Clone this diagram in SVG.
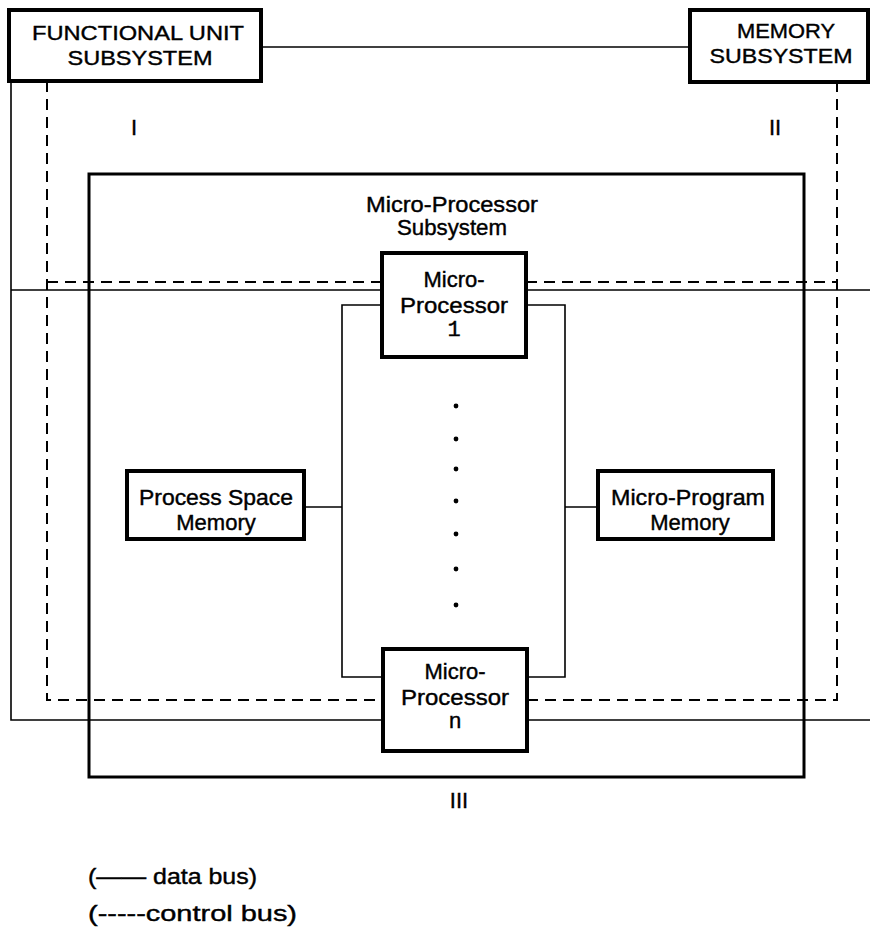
<svg xmlns="http://www.w3.org/2000/svg" width="870" height="940" viewBox="0 0 870 940">
<style>
.box{fill:#fff;stroke:#000;stroke-width:4}
.sub{fill:none;stroke:#000;stroke-width:3}
.data{fill:none;stroke:#000;stroke-width:1.6}
.ctrl{fill:none;stroke:#000;stroke-width:2;stroke-dasharray:11 7}
text{font-family:"Liberation Sans",Arial,sans-serif;fill:#000;stroke:#000;stroke-width:0.4;text-anchor:middle}
.big{font-size:21px}
.lbl{font-size:22px}
.start{text-anchor:start}
</style>
<rect width="870" height="940" fill="#fff"/>
<g id="mps-subsystem">
<rect class="sub" x="89" y="174" width="715" height="603"/>
<text class="lbl" x="452" y="212" textLength="172" lengthAdjust="spacingAndGlyphs">Micro-Processor</text>
<text class="lbl" x="452" y="235" textLength="110" lengthAdjust="spacingAndGlyphs">Subsystem</text>
</g>
<g id="connectors">
<path class="data" d="M261,47 H690"/>
<path class="data" d="M11,81 V720 H383"/>
<path class="data" d="M11,290 H382"/>
<path class="data" d="M526,290 H870"/>
<path class="data" d="M527,720 H870"/>
<path class="data" d="M382,305 H342 V677 H383"/>
<path class="data" d="M526,305 H565 V677 H527"/>
<path class="data" d="M304,507 H342"/>
<path class="data" d="M565,507 H598"/>
<path class="ctrl" d="M47,81 V700 H383"/>
<path class="ctrl" d="M527,700 H837 V82"/>
<path class="ctrl" d="M47,282 H382"/>
<path class="ctrl" d="M526,282 H837"/>
</g>
<g id="functional-unit">
<rect class="box" x="9" y="10" width="252" height="71"/>
<text class="big" x="138" y="40" textLength="212" lengthAdjust="spacingAndGlyphs">FUNCTIONAL UNIT</text>
<text class="big" x="140" y="65" textLength="145" lengthAdjust="spacingAndGlyphs">SUBSYSTEM</text>
</g>
<g id="memory">
<rect class="box" x="690" y="10" width="178" height="72"/>
<text class="big" x="786" y="38" textLength="98" lengthAdjust="spacingAndGlyphs">MEMORY</text>
<text class="big" x="781" y="63" textLength="143" lengthAdjust="spacingAndGlyphs">SUBSYSTEM</text>
</g>
<g id="mp1">
<rect class="box" x="382" y="253" width="144" height="104"/>
<text class="lbl" x="454" y="287">Micro-</text>
<text class="lbl" x="454" y="313" textLength="108" lengthAdjust="spacingAndGlyphs">Processor</text>
<text class="lbl" x="454" y="336" style="font-family:'Liberation Mono',monospace">1</text>
</g>
<g id="mpn">
<rect class="box" x="383" y="649" width="144" height="102"/>
<text class="lbl" x="455" y="679">Micro-</text>
<text class="lbl" x="455" y="705" textLength="108" lengthAdjust="spacingAndGlyphs">Processor</text>
<text class="lbl" x="455" y="728">n</text>
</g>
<g id="process-space-memory">
<rect class="box" x="127" y="471" width="177" height="68"/>
<text class="lbl" x="216" y="505" textLength="154" lengthAdjust="spacingAndGlyphs">Process Space</text>
<text class="lbl" x="216" y="530">Memory</text>
</g>
<g id="micro-program-memory">
<rect class="box" x="598" y="471" width="175" height="68"/>
<text class="lbl" x="688" y="505" textLength="154" lengthAdjust="spacingAndGlyphs">Micro-Program</text>
<text class="lbl" x="690" y="530">Memory</text>
</g>
<g id="dots" fill="#000">
<circle cx="456" cy="406" r="2.4"/>
<circle cx="456" cy="439" r="2.4"/>
<circle cx="456" cy="469" r="2.4"/>
<circle cx="456" cy="501" r="2.4"/>
<circle cx="456" cy="534" r="2.4"/>
<circle cx="456" cy="569" r="2.4"/>
<circle cx="456" cy="605" r="2.4"/>
</g>
<g id="labels">
<text class="lbl" x="134" y="135">I</text>
<text class="lbl" x="775" y="135">II</text>
<text class="lbl" x="459" y="808">III</text>
</g>
<g id="legend">
<text class="lbl start" x="88" y="884" textLength="169" lengthAdjust="spacingAndGlyphs">(—— data bus)</text>
<text class="lbl start" x="88" y="921" textLength="209" lengthAdjust="spacingAndGlyphs">(-----control bus)</text>
</g>
</svg>
